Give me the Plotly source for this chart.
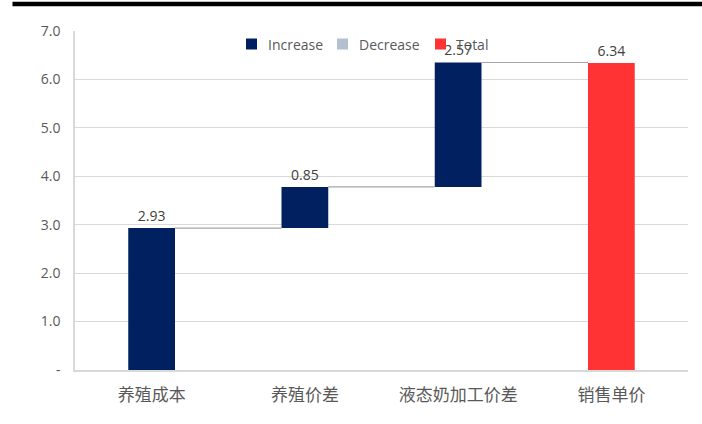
import plotly.graph_objects as go

categories = ["养殖成本", "养殖价差", "液态奶加工价差", "销售单价"]
increase_values = [2.93, 0.85, 2.57]
total_value = 6.34
y_tickvals = [0, 1, 2, 3, 4, 5, 6, 7]
y_ticktext = ["-", "1.0", "2.0", "3.0", "4.0", "5.0", "6.0", "7.0"]
legend_names = ["Increase", "Decrease", "Total"]

# styles
C_INC = "#002060"
C_DEC = "#B4C0D0"
C_TOT = "#FF3333"
BAR_W = 0.305
FONT = "Open Sans, Noto Sans CJK SC, sans-serif"

bases = []
acc = 0.0
for v in increase_values:
    bases.append(acc)
    acc += v
tops = [b + v for b, v in zip(bases, increase_values)]

fig = go.Figure()
fig.add_trace(go.Bar(
    name=legend_names[0], x=categories[:3], y=increase_values, base=bases,
    marker=dict(color=C_INC, line=dict(width=0)), width=BAR_W,
    text=[f"{v:.2f}" for v in increase_values], textposition="outside",
    textfont=dict(size=14, color="#404040", family=FONT), cliponaxis=False,
))
fig.add_trace(go.Bar(
    name=legend_names[2], x=[categories[3]], y=[total_value],
    marker=dict(color=C_TOT, line=dict(width=0)), width=BAR_W,
    text=[f"{total_value:.2f}"], textposition="outside",
    textfont=dict(size=14, color="#404040", family=FONT), cliponaxis=False,
))

# connectors
for i, lvl in enumerate(tops):
    fig.add_shape(type="line", xref="x", yref="y",
                  x0=i + BAR_W / 2, x1=i + 1 - BAR_W / 2, y0=lvl, y1=lvl,
                  line=dict(color="#A6A6A6", width=1.2), layer="above")

# top black rule
fig.add_shape(type="line", xref="paper", yref="paper",
              x0=-0.102, x1=1.03, y0=1.0796, y1=1.0796,
              line=dict(color="black", width=4.5))

# manual legend (pixel layout converted to paper coords)
L, R, T, B = 75, 14, 31, 54
PW, PH = 702 - L - R, 424 - T - B
def px(x):
    return (x - L) / PW
def py(y):
    return (424 - B - y) / PH

legend_colors = [C_INC, C_DEC, C_TOT]
square_x = [246, 337, 435]
text_x = [266, 357, 454]
for name, col, sx, tx in zip(legend_names, legend_colors, square_x, text_x):
    fig.add_shape(type="rect", xref="paper", yref="paper",
                  x0=px(sx), x1=px(sx + 11), y0=py(49.5), y1=py(38.5),
                  fillcolor=col, line=dict(width=0), layer="above")
    fig.add_annotation(xref="paper", yref="paper", x=px(tx), y=py(44.5),
                       xanchor="left", yanchor="middle", showarrow=False,
                       text=name, font=dict(size=14, color="#595959", family=FONT))

fig.update_layout(
    width=702, height=424,
    margin=dict(l=L, r=R, t=T, b=B),
    plot_bgcolor="white", paper_bgcolor="white",
    barmode="overlay",
    font=dict(family=FONT, color="#595959"),
    showlegend=False,
    xaxis=dict(type="category", categoryorder="array", categoryarray=categories,
               range=[-0.5, 3.5], showline=True, linecolor="#D9D9D9", linewidth=1.5,
               ticks="", tickfont=dict(size=17, color="#595959", family=FONT),
               ticklabelstandoff=9, showgrid=False, zeroline=False),
    yaxis=dict(range=[0, 7], tickvals=y_tickvals, ticktext=y_ticktext,
               showgrid=True, gridcolor="#D9D9D9", gridwidth=1.2,
               showline=True, linecolor="#D9D9D9", linewidth=1.5,
               zeroline=False, ticks="", ticklabelstandoff=10,
               tickfont=dict(size=14, color="#595959", family=FONT)),
)

fig.write_html("out.html")
